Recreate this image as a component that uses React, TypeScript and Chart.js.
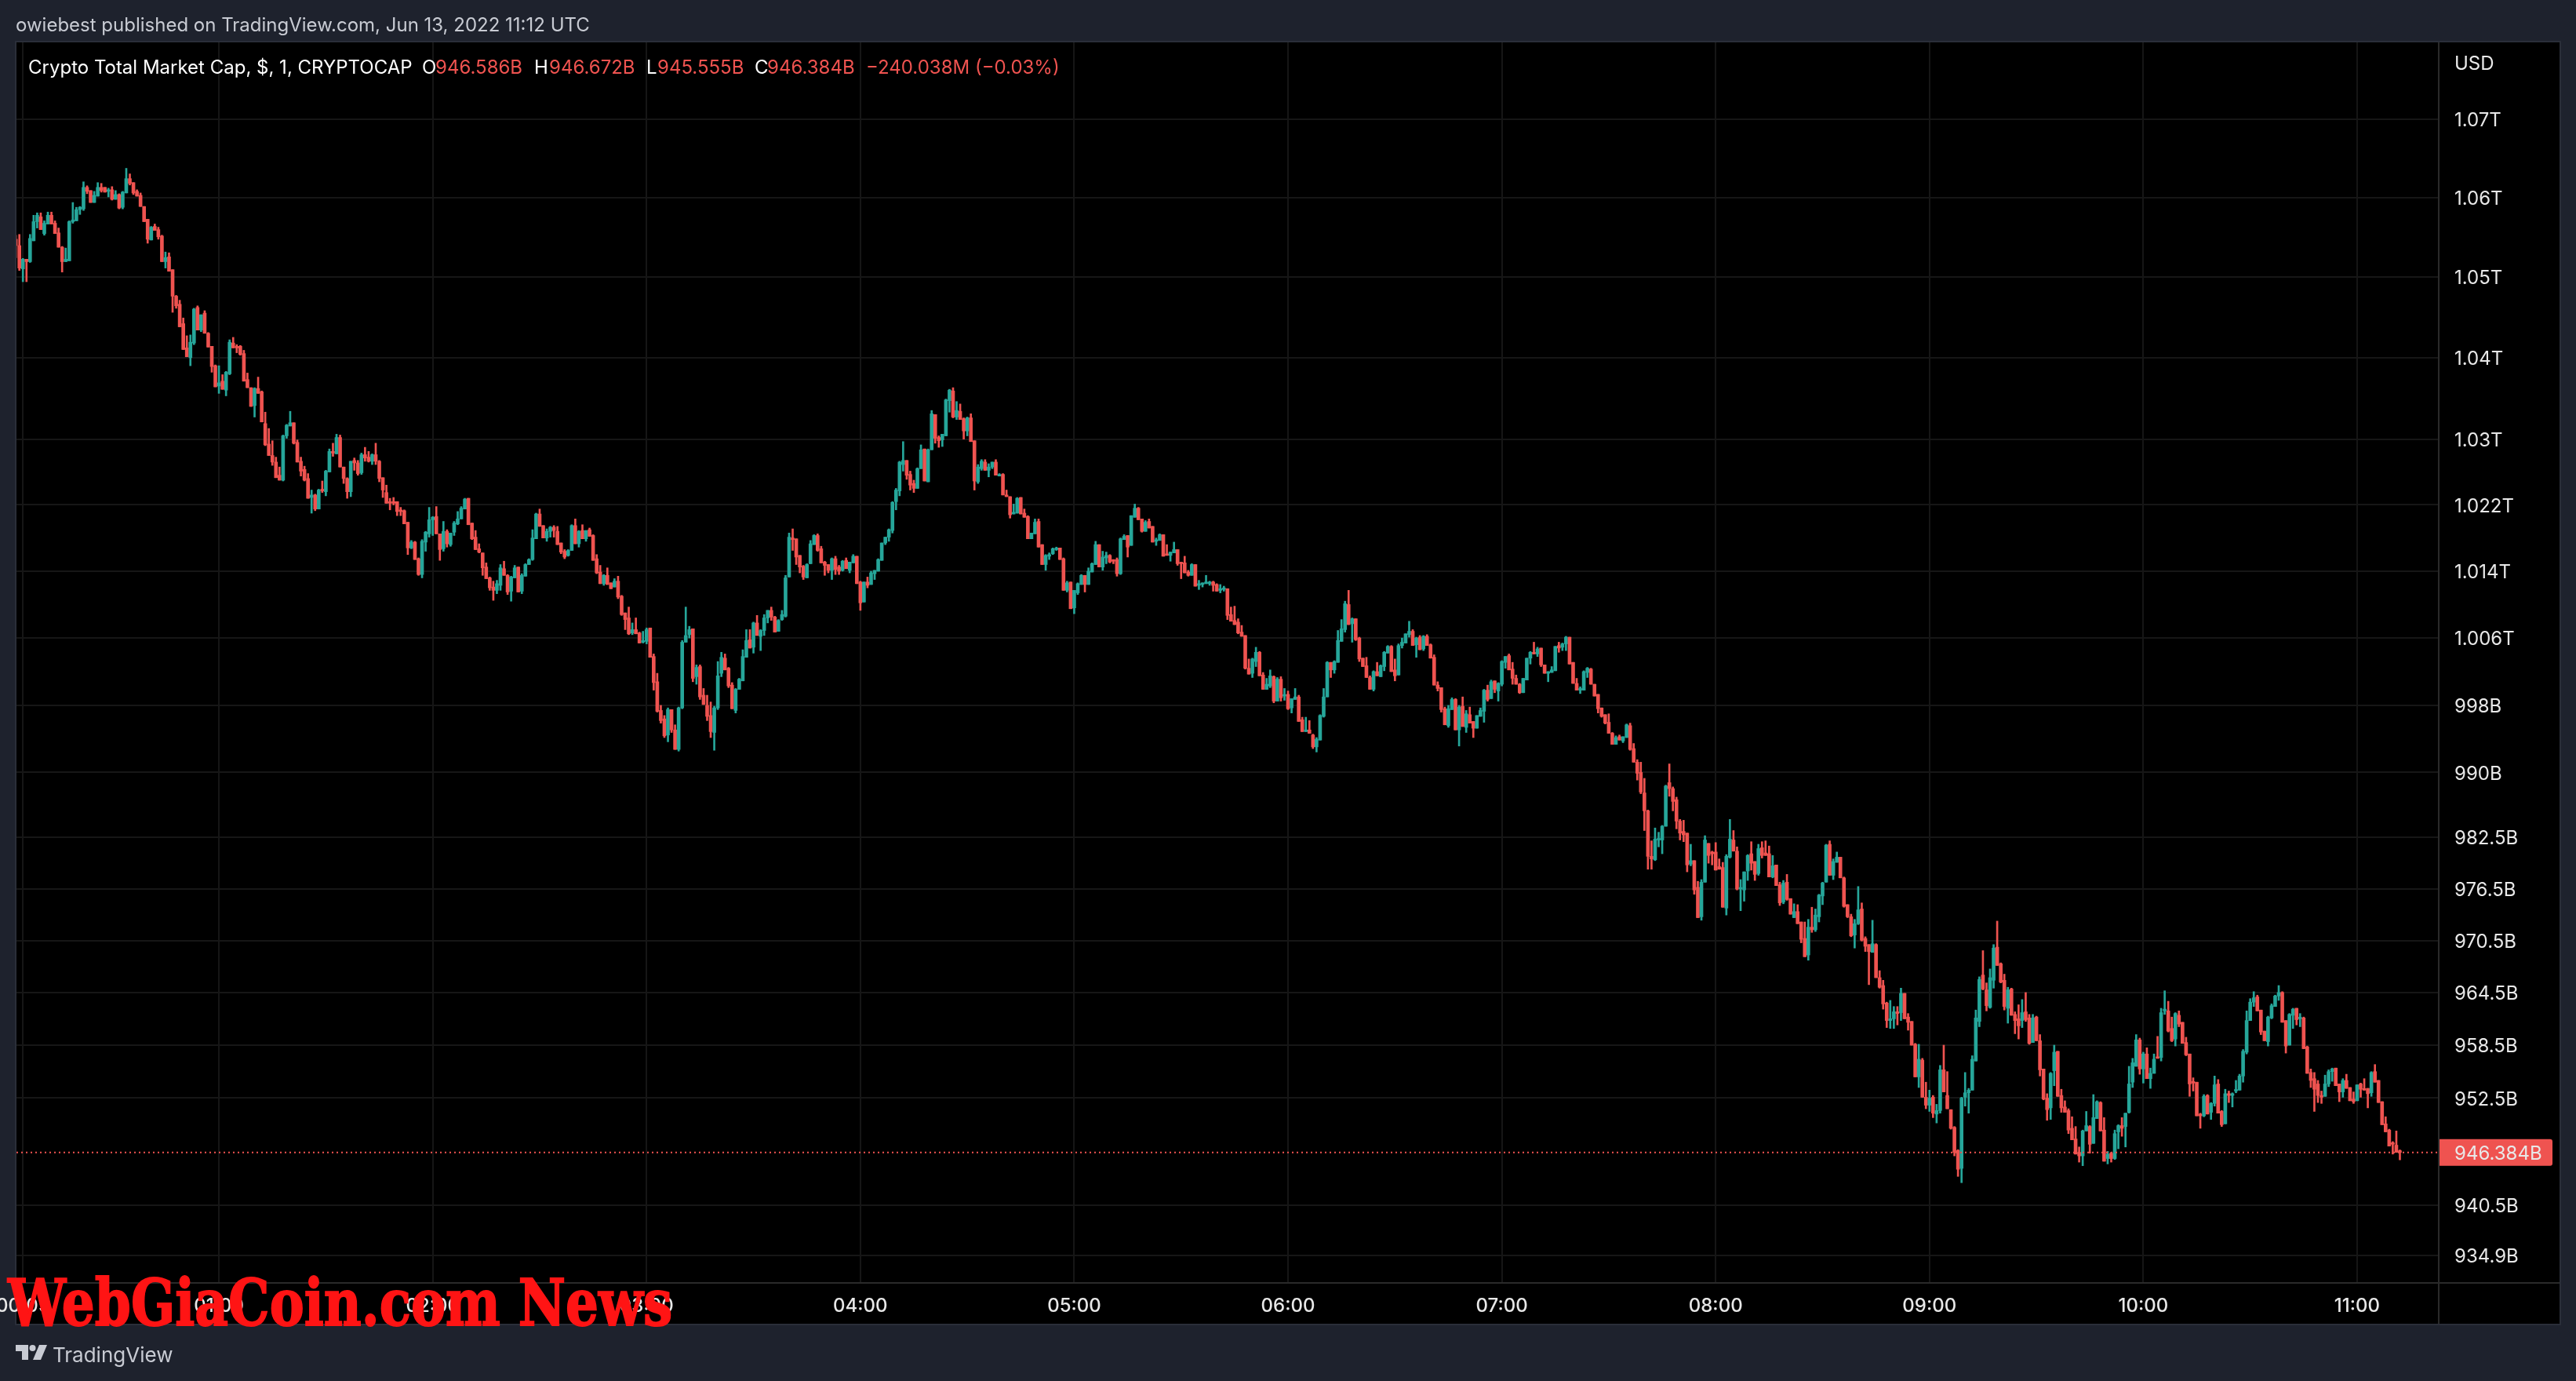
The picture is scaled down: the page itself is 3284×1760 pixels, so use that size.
import React, { useEffect, useRef } from "react";
import { Chart, registerables } from "chart.js";

Chart.register(...registerables);

const firstMinute = 3;

const opens = [
1054.6,1053.8,1050.9,1052.1,1051.8,1054.4,1056.8,1057.4,1055.3,1056.5,1057.6,1056.6,1055.4,1053.6,1051.8,1051.9,1056.8,1056.9,1058.3,1058.4,1061.1,1060.7,1059.2,1060.0,1061.1,1061.1,1060.6,1060.8,1059.6,1060.2,1058.6,1060.4,1062.2,1061.7,1060.6,1060.1,1058.7,1057.1,1054.5,1056.2,1055.8,1055.0,1051.8,1052.4,1050.8,1047.5,1046.5,1044.1,1041.1,1039.9,1041.7,1046.1,1043.3,1045.4,1042.9,1041.3,1038.9,1036.4,1037.0,1035.9,1037.9,1041.7,1041.2,1041.3,1040.4,1037.2,1036.2,1034.0,1036.1,1035.7,1031.8,1029.3,1027.9,1027.1,1025.5,1024.9,1030.3,1031.5,1031.9,1029.5,1027.2,1026.2,1025.1,1022.8,
1023.1,1021.4,1023.8,1023.5,1025.9,1028.4,1028.1,1030.1,1026.5,1025.1,1023.5,1027.3,1027.0,1025.8,1028.0,1027.7,1027.2,1028.0,1027.2,1025.2,1023.4,1022.2,1022.3,1022.3,1021.2,1021.2,1019.8,1016.7,1017.4,1015.4,1013.5,1017.4,1018.4,1020.1,1020.5,1018.4,1016.6,1018.7,1017.1,1018.6,1019.6,1020.2,1021.4,1022.7,1019.7,1018.0,1016.6,1016.1,1014.4,1013.1,1012.0,1011.6,1012.2,1014.2,1013.4,1011.5,1013.1,1014.4,1011.5,1013.3,1014.7,1015.3,1017.8,1020.8,1019.4,1017.9,1018.7,1019.2,1018.7,1017.3,1016.3,1015.8,1016.4,1019.4,1017.2,1018.8,1017.8,1018.9,1018.2,1015.4,1013.8,1012.4,1013.4,1012.5,
1012.0,1012.7,1010.9,1008.9,1008.3,1006.5,1006.9,1006.5,1005.4,1005.5,1007.1,1003.7,1000.7,997.3,996.3,994.4,997.4,995.0,992.7,997.6,1005.4,1006.3,1007.0,1001.3,1002.5,999.1,997.9,996.7,994.7,997.6,1001.7,1003.5,1002.3,1000.3,997.3,999.8,1000.8,1003.6,1005.7,1004.8,1007.7,1006.1,1006.8,1008.3,1009.2,1008.4,1006.7,1008.1,1008.5,1013.2,1017.9,1017.8,1015.8,1014.5,1013.1,1014.8,1017.1,1018.2,1016.6,1015.0,1014.7,1014.0,1015.4,1014.4,1014.0,1015.2,1014.0,1014.9,1015.7,1012.6,1010.2,1012.6,1012.3,1013.6,1013.9,1015.2,1017.3,1018.0,1018.8,1022.3,1023.6,1026.8,1027.3,1025.6,
1024.5,1023.9,1026.3,1028.7,1024.7,1028.6,1032.9,1030.1,1029.8,1030.3,1034.6,1035.8,1032.6,1033.3,1032.4,1030.9,1032.5,1029.7,1024.7,1026.3,1027.1,1026.1,1026.5,1027.1,1025.4,1025.6,1023.1,1022.9,1020.8,1020.9,1022.8,1020.9,1020.5,1017.8,1018.4,1019.9,1017.1,1014.7,1015.7,1016.0,1016.5,1016.7,1015.4,1011.6,1012.6,1009.5,1011.3,1012.3,1013.4,1012.3,1013.8,1014.7,1017.1,1014.4,1015.5,1015.8,1015.2,1015.3,1013.6,1017.7,1018.2,1017.0,1020.4,1021.5,1020.2,1018.7,1019.9,1019.3,1017.5,1017.6,1018.3,1015.9,1015.8,1016.1,1016.5,1014.9,1014.9,1013.8,1013.4,1014.7,1012.2,1012.3,1012.4,
1012.4,1012.6,1012.3,1011.6,1011.7,1011.8,1008.7,1008.0,1007.8,1006.6,1006.2,1002.3,1001.7,1003.1,1004.2,1001.5,999.8,1000.2,1001.3,998.4,1001.0,999.0,999.2,997.6,998.6,998.9,996.2,994.8,995.0,994.4,993.0,993.8,996.6,998.9,1003.0,1002.1,1003.0,1005.5,1006.9,1009.9,1007.6,1008.2,1005.9,1003.5,1002.6,1001.2,999.8,1001.9,1001.3,1002.5,1004.1,1004.9,1002.1,1001.5,1005.0,1005.3,1006.3,1006.7,1005.1,1006.0,1004.6,1006.1,1005.1,1003.6,1000.3,1000.0,997.5,995.5,997.4,998.6,995.0,997.8,995.3,996.8,996.0,995.2,996.6,997.2,999.7,998.7,1000.8,999.6,1000.4,1003.0,
1003.8,1002.2,1001.1,1000.4,999.4,1000.9,1003.5,1004.2,1004.0,1004.7,1002.7,1001.7,1001.8,1002.0,1005.0,1004.8,1005.2,1006.0,1003.0,1000.5,999.7,999.7,1001.8,1002.2,1000.4,999.2,997.6,996.8,995.9,994.6,993.3,994.2,993.7,994.1,995.5,992.8,991.2,990.0,987.6,985.5,980.2,979.8,982.1,982.1,983.7,988.8,988.1,986.8,984.3,983.1,982.9,979.3,979.7,976.6,973.2,977.2,981.7,980.7,980.7,979.0,978.9,974.2,980.1,982.1,980.8,976.4,976.3,978.5,980.5,979.6,978.2,981.2,980.6,980.5,977.8,979.2,976.9,974.9,977.2,975.3,973.1,973.8,972.6,970.7,
968.8,972.0,971.7,973.2,975.6,977.2,981.6,978.0,979.5,980.1,977.7,974.6,973.2,971.1,972.4,974.1,970.7,970.0,969.1,970.0,966.2,965.3,963.3,961.3,961.5,962.3,962.2,964.4,961.7,961.2,958.6,954.9,956.8,952.6,951.7,952.6,950.7,951.1,955.7,952.8,951.2,949.2,946.6,944.6,952.6,953.1,953.4,956.7,961.2,966.5,964.8,962.8,965.9,969.7,967.8,965.9,962.7,964.9,962.0,961.5,961.3,962.3,961.6,958.8,961.7,959.0,955.8,952.5,951.4,955.6,957.8,952.8,951.5,951.1,949.1,947.9,946.4,946.0,948.8,949.3,947.4,950.2,952.0,
948.9,945.7,946.3,945.7,948.7,949.4,949.3,950.9,954.3,956.1,959.1,955.8,957.5,954.7,955.3,957.1,957.1,962.4,962.4,960.4,959.2,961.9,961.1,958.8,957.5,954.3,954.3,950.7,950.5,952.8,950.9,951.9,954.1,951.0,949.6,953.0,952.8,953.3,953.4,955.0,957.7,961.3,963.4,964.0,962.5,960.1,958.9,961.6,962.9,964.1,964.5,961.3,958.5,961.9,962.7,961.5,961.6,958.3,955.4,954.7,954.1,952.8,952.7,954.1,955.5,955.9,954.1,953.2,954.5,953.7,952.4,952.2,954.1,953.5,953.6,953.1,955.5,954.5,952.1,949.6,948.9,947.4,947.2,946.586,
];

const highs = [
1055.1,1055.2,1052.2,1052.1,1055.2,1057.6,1057.9,1057.9,1056.9,1058.0,1058.0,1056.9,1056.0,1053.7,1053.5,1056.9,1059.2,1058.6,1058.7,1061.8,1061.3,1060.7,1060.6,1061.7,1061.6,1061.1,1061.0,1061.2,1060.7,1060.3,1060.6,1063.5,1062.8,1061.7,1060.8,1060.4,1058.7,1057.1,1056.2,1056.5,1056.1,1055.1,1053.0,1052.9,1050.8,1047.6,1047.0,1044.8,1042.6,1042.7,1046.0,1046.3,1045.2,1045.7,1043.0,1041.3,1039.0,1038.9,1037.8,1038.2,1042.1,1042.4,1041.5,1041.4,1040.8,1038.0,1036.2,1036.2,1037.5,1035.8,1033.2,1031.2,1029.7,1027.7,1026.5,1030.4,1031.7,1033.3,1031.9,1029.8,1027.7,1026.6,1025.7,1023.7,
1023.2,1023.8,1024.8,1026.1,1028.7,1029.4,1030.5,1030.4,1026.5,1025.2,1027.2,1027.6,1027.3,1028.2,1028.9,1028.4,1028.1,1029.4,1027.3,1025.2,1024.3,1022.7,1022.8,1022.3,1021.6,1021.3,1019.8,1017.6,1017.5,1015.5,1017.7,1018.7,1021.6,1020.5,1021.7,1018.4,1019.9,1018.9,1018.5,1019.9,1021.1,1021.7,1022.7,1022.7,1019.7,1018.8,1017.2,1016.1,1014.9,1013.2,1012.7,1012.8,1014.7,1015.1,1013.5,1013.3,1014.6,1014.4,1013.6,1014.8,1015.4,1018.9,1020.9,1021.4,1019.4,1019.0,1019.3,1019.4,1019.3,1017.3,1016.5,1016.5,1019.5,1020.2,1018.8,1019.5,1018.8,1019.1,1018.3,1015.9,1014.6,1013.5,1014.3,1012.5,
1013.0,1013.3,1011.0,1008.9,1009.6,1007.7,1008.3,1006.6,1006.7,1007.1,1007.1,1004.0,1001.7,997.9,996.7,997.6,997.4,995.6,997.7,1005.6,1009.6,1007.3,1007.0,1002.7,1002.7,999.9,999.1,998.3,997.8,1003.1,1004.2,1004.0,1002.4,1000.6,999.9,1001.1,1004.5,1006.9,1006.9,1007.8,1008.6,1006.9,1008.7,1009.2,1009.6,1008.5,1008.1,1009.2,1013.4,1018.5,1019.0,1017.8,1015.8,1014.6,1014.8,1017.6,1018.3,1018.4,1016.9,1015.1,1014.7,1015.5,1015.7,1014.6,1015.2,1015.5,1015.0,1015.9,1015.7,1012.7,1012.6,1013.2,1013.9,1014.0,1015.4,1017.3,1018.0,1019.0,1022.3,1023.9,1027.2,1029.6,1027.3,1026.0,
1024.9,1026.4,1029.2,1028.7,1028.7,1033.4,1032.9,1030.3,1030.5,1034.8,1036.0,1036.2,1034.5,1034.2,1032.5,1032.6,1033.0,1029.7,1026.8,1027.4,1027.4,1026.9,1027.1,1027.4,1025.7,1025.7,1023.7,1022.9,1022.0,1022.8,1022.8,1021.4,1020.6,1017.8,1020.2,1020.2,1017.1,1015.9,1016.1,1016.7,1016.8,1016.7,1015.5,1012.7,1012.6,1011.6,1012.5,1013.5,1013.4,1014.3,1014.9,1017.5,1017.1,1016.3,1016.2,1015.9,1015.3,1015.5,1017.9,1018.3,1018.2,1020.6,1022.0,1021.6,1020.2,1020.0,1020.2,1019.3,1017.9,1018.4,1018.3,1017.1,1016.2,1017.4,1016.5,1015.0,1015.7,1014.0,1014.8,1014.7,1012.8,1012.5,1013.4,
1012.7,1012.7,1012.4,1012.3,1012.1,1011.8,1009.6,1009.7,1008.2,1007.4,1006.2,1003.4,1003.5,1004.8,1004.3,1001.8,1001.1,1002.1,1001.4,1001.2,1001.3,999.9,999.6,998.7,999.9,999.1,996.5,996.5,996.1,994.5,994.1,996.8,999.9,1003.1,1003.0,1003.2,1006.8,1008.1,1010.3,1011.6,1008.3,1008.2,1006.0,1003.5,1003.6,1001.4,1002.0,1003.0,1002.7,1004.3,1005.0,1005.0,1003.4,1005.2,1005.9,1006.4,1007.9,1006.9,1006.0,1006.2,1006.2,1006.3,1005.2,1003.9,1000.7,1000.0,997.7,997.9,998.8,998.7,997.9,998.9,997.3,997.7,996.0,996.7,997.6,999.8,1000.3,1000.9,1000.8,1000.6,1003.2,1003.7,
1004.0,1003.0,1001.5,1000.5,1001.1,1003.5,1004.3,1005.4,1004.8,1004.7,1002.7,1001.9,1002.5,1004.9,1005.4,1005.3,1006.1,1006.0,1003.0,1001.1,1000.1,1002.0,1002.4,1002.3,1000.4,999.2,997.6,996.8,996.9,994.7,994.3,994.4,994.2,995.7,995.8,993.4,991.5,991.2,989.3,985.6,982.0,983.5,983.0,983.8,988.5,991.0,988.3,987.1,984.5,984.4,982.9,981.6,979.7,977.3,977.5,982.6,981.7,980.8,981.8,979.9,979.5,980.4,984.5,983.2,981.3,977.5,978.4,980.4,981.9,979.6,981.6,981.9,982.0,981.4,980.3,979.2,977.2,977.4,978.1,975.3,974.7,974.6,972.6,972.6,
972.9,974.3,974.1,975.8,977.2,981.6,982.0,979.9,980.7,980.1,977.8,974.6,973.5,972.9,976.7,974.8,970.9,970.0,972.8,970.1,967.0,965.9,963.4,963.6,962.9,962.9,965.0,964.4,962.1,961.2,958.7,958.6,957.0,954.3,953.4,952.8,951.8,956.2,958.5,955.5,951.2,949.3,946.7,952.6,955.4,953.6,957.3,962.5,966.3,969.3,965.6,967.2,970.0,972.7,967.9,966.6,965.1,965.0,962.3,963.1,963.7,964.5,962.0,962.0,961.8,959.7,955.8,953.0,955.4,958.5,957.8,953.5,952.2,951.3,950.4,949.3,947.0,948.9,951.0,949.4,952.9,952.2,952.1,
950.3,946.5,946.4,948.9,949.5,950.3,950.8,956.1,957.0,959.7,959.3,957.7,958.2,955.9,957.5,959.5,962.7,964.7,963.5,961.7,962.2,962.4,961.1,959.4,957.5,954.8,954.3,950.8,952.9,952.9,952.0,955.0,954.6,951.1,953.5,953.3,953.1,954.5,955.2,958.0,962.4,963.8,964.6,964.2,962.5,960.1,961.8,963.2,964.2,965.3,964.6,961.3,962.1,962.7,962.7,962.1,961.7,958.4,955.8,955.4,954.5,953.3,955.1,955.7,955.9,955.9,954.1,954.7,955.2,953.7,953.2,954.0,954.2,954.7,953.6,955.5,956.3,954.5,952.1,950.4,949.0,947.6,948.8,946.672,
];

const lows = [
1052.3,1050.7,1049.3,1049.3,1051.7,1054.4,1056.0,1055.8,1055.1,1056.5,1056.5,1055.3,1053.6,1050.5,1051.8,1051.9,1056.6,1056.9,1057.7,1058.2,1060.3,1059.2,1059.2,1060.0,1060.5,1060.5,1059.9,1059.5,1059.6,1058.4,1058.4,1060.4,1061.4,1060.2,1060.0,1058.7,1056.8,1054.1,1054.5,1055.7,1054.6,1051.8,1051.0,1050.6,1045.5,1046.0,1043.7,1040.9,1040.0,1038.9,1041.5,1043.3,1043.1,1042.9,1041.2,1038.1,1036.3,1035.5,1036.0,1035.2,1037.8,1041.1,1040.5,1040.2,1037.0,1036.2,1033.9,1032.6,1035.5,1032.0,1029.1,1027.9,1026.7,1025.2,1024.9,1024.8,1030.0,1031.5,1029.3,1027.1,1025.4,1024.8,1022.7,1020.9,
1021.2,1021.4,1023.4,1023.0,1025.9,1027.8,1028.1,1026.5,1024.5,1022.7,1022.9,1026.1,1025.5,1025.6,1027.2,1027.1,1026.8,1026.8,1024.7,1022.8,1022.1,1021.3,1021.9,1020.6,1020.6,1019.6,1015.9,1016.6,1015.3,1013.4,1013.1,1016.3,1018.0,1018.2,1018.4,1015.2,1016.3,1016.8,1016.9,1018.2,1019.5,1020.2,1021.4,1019.5,1017.7,1016.5,1016.1,1013.4,1013.0,1011.6,1010.4,1011.2,1011.6,1013.4,1011.1,1010.3,1013.1,1011.4,1011.2,1013.3,1014.7,1015.2,1017.8,1019.3,1017.9,1017.5,1018.0,1018.0,1017.1,1016.0,1015.4,1015.7,1016.4,1017.2,1016.8,1017.8,1017.5,1018.1,1015.2,1013.6,1012.4,1012.2,1012.3,1011.8,
1012.0,1010.6,1008.6,1006.9,1006.3,1006.3,1006.4,1005.3,1005.3,1005.2,1003.6,999.7,997.1,995.8,994.1,993.6,994.7,992.7,992.5,997.5,1005.4,1005.9,1000.7,1000.4,998.6,998.0,996.1,994.1,992.6,997.4,1001.3,1002.1,1000.0,997.5,997.0,999.8,1000.8,1003.6,1004.7,1004.1,1006.2,1004.4,1006.2,1007.7,1008.0,1006.6,1006.7,1008.0,1008.4,1013.2,1016.4,1014.7,1013.7,1012.9,1013.1,1014.8,1017.1,1016.3,1014.9,1013.4,1013.7,1012.9,1013.5,1013.5,1013.9,1014.2,1013.7,1014.9,1012.4,1009.2,1010.2,1011.9,1012.3,1012.9,1013.9,1015.2,1017.1,1017.5,1018.5,1021.3,1023.0,1026.0,1025.0,1023.7,
1023.4,1023.9,1026.3,1024.8,1024.7,1028.6,1029.4,1028.9,1029.0,1030.3,1033.2,1032.5,1032.3,1032.3,1029.9,1030.3,1029.6,1023.7,1024.5,1026.1,1026.1,1025.3,1026.3,1025.5,1025.4,1023.1,1022.9,1020.3,1020.8,1020.9,1020.8,1020.4,1017.8,1017.8,1018.4,1016.8,1014.7,1014.0,1015.3,1015.9,1016.4,1015.3,1011.6,1011.4,1009.4,1008.8,1011.1,1012.3,1011.4,1012.3,1013.8,1014.7,1014.4,1014.0,1014.8,1014.9,1014.8,1013.3,1013.5,1017.7,1015.6,1017.0,1020.4,1020.1,1018.6,1018.7,1019.1,1017.4,1017.0,1017.6,1015.7,1015.8,1015.1,1016.1,1014.6,1013.0,1013.7,1013.3,1013.4,1012.1,1011.7,1012.0,1012.4,
1012.2,1011.5,1011.5,1011.3,1011.5,1008.1,1007.9,1007.5,1006.4,1006.1,1002.2,1001.6,1001.2,1002.5,1001.4,999.8,999.8,1000.0,998.2,998.4,998.4,998.5,997.4,997.0,998.6,996.0,994.8,994.8,994.6,992.8,992.4,993.8,996.5,998.9,1001.2,1001.7,1003.0,1005.5,1006.6,1007.5,1005.4,1005.6,1003.1,1002.5,1001.2,999.8,999.6,1001.4,1001.3,1002.0,1004.1,1001.9,1000.8,1001.5,1004.7,1005.3,1006.0,1005.0,1003.6,1004.5,1004.4,1005.0,1003.5,1000.3,999.6,997.1,995.6,995.3,997.4,995.0,993.1,995.4,994.7,995.8,994.1,995.2,996.6,995.9,998.4,998.7,999.4,998.4,1000.2,1002.3,
1002.1,1000.4,1000.4,999.3,999.4,1000.9,1002.8,1004.0,1003.7,1002.5,1001.7,1000.7,1001.8,1002.0,1004.2,1004.4,1004.4,1002.8,1000.5,999.7,999.3,999.7,1001.2,1000.4,999.0,997.0,996.5,995.7,994.6,993.3,993.3,993.8,993.5,994.1,992.6,991.2,989.1,987.5,983.2,978.7,978.7,979.7,981.3,980.5,983.7,987.2,985.5,983.4,982.1,981.9,978.4,979.1,975.8,973.1,972.8,977.2,979.4,979.2,978.6,978.7,974.3,973.4,980.0,980.8,976.3,973.9,975.0,977.4,978.6,977.4,978.0,980.0,980.3,977.8,977.7,976.8,974.5,974.7,975.1,973.5,973.1,972.4,970.2,968.6,
968.2,971.4,971.5,972.6,974.6,977.2,978.0,977.5,979.5,977.7,974.3,973.1,970.9,969.6,972.3,970.4,969.2,965.4,969.1,966.2,965.0,962.6,960.5,960.4,960.4,960.8,961.3,961.5,960.2,958.5,954.9,953.7,952.6,951.3,951.0,950.3,949.7,950.8,953.2,951.3,949.0,946.0,943.7,943.0,951.6,950.8,953.4,956.7,960.6,964.8,962.4,962.7,965.0,967.6,965.6,962.5,961.0,961.9,959.8,959.2,960.5,961.2,958.6,958.8,959.0,955.0,952.3,950.0,950.1,953.9,952.7,950.9,950.9,948.5,947.8,946.2,945.3,944.9,948.8,946.3,947.4,950.2,948.8,
945.4,945.1,945.3,945.6,946.8,948.2,947.0,950.8,953.7,956.1,955.2,954.2,954.7,953.6,955.3,957.0,956.7,962.0,960.0,958.9,958.4,960.6,958.7,957.3,952.7,953.3,950.5,949.1,950.4,950.7,950.1,951.6,950.8,949.3,949.6,952.0,951.5,953.1,953.4,954.3,957.5,961.3,962.9,962.4,959.7,959.0,958.4,961.5,962.9,963.6,961.1,957.6,958.5,960.4,960.8,960.6,958.1,955.3,953.7,951.0,952.0,951.9,952.7,953.8,954.4,953.9,952.1,952.6,953.6,952.2,951.9,952.2,952.6,953.4,951.4,952.7,954.3,952.0,949.5,948.7,947.1,946.2,946.4,945.555,
];

const closes = [
1053.8,1051.0,1052.1,1051.8,1054.7,1056.8,1057.6,1055.8,1056.6,1057.6,1056.5,1055.3,1053.6,1051.8,1052.1,1056.8,1057.0,1058.3,1058.6,1061.1,1060.6,1059.2,1060.1,1061.1,1060.7,1060.5,1060.8,1059.6,1060.2,1058.5,1060.5,1062.2,1061.6,1060.4,1060.0,1058.7,1056.8,1054.6,1056.1,1055.7,1054.9,1051.8,1052.3,1050.6,1047.5,1046.3,1043.7,1040.9,1040.0,1041.8,1045.9,1043.3,1045.2,1042.9,1041.2,1038.8,1036.3,1036.8,1036.0,1038.1,1041.8,1041.1,1041.1,1040.3,1037.0,1036.2,1033.9,1036.1,1035.5,1032.0,1029.2,1027.9,1027.1,1025.2,1024.9,1030.3,1031.6,1031.9,1029.4,1027.1,1026.0,1024.9,1022.7,1023.1,
1021.4,1023.7,1023.6,1026.0,1028.4,1028.2,1030.1,1026.5,1025.1,1023.5,1027.2,1027.0,1025.7,1028.0,1027.6,1027.2,1028.0,1027.2,1025.1,1023.7,1022.1,1022.1,1022.1,1021.1,1021.1,1019.6,1016.7,1017.4,1015.3,1013.5,1017.5,1018.6,1020.1,1020.4,1018.4,1016.5,1018.7,1017.2,1018.5,1019.7,1020.2,1021.5,1022.6,1019.5,1017.8,1016.5,1016.2,1014.3,1013.0,1011.9,1011.6,1012.4,1014.3,1013.4,1011.4,1013.2,1014.3,1011.4,1013.4,1014.7,1015.3,1017.9,1020.8,1019.3,1017.9,1018.7,1019.2,1018.8,1017.1,1016.2,1015.6,1016.4,1019.4,1017.2,1018.7,1017.8,1018.8,1018.1,1015.2,1013.7,1012.4,1013.4,1012.3,1011.8,
1012.7,1010.8,1008.7,1008.1,1006.4,1006.9,1006.4,1005.3,1005.5,1006.9,1003.6,1000.6,997.2,996.1,994.3,997.4,995.0,992.7,997.6,1005.4,1006.2,1006.9,1001.1,1002.4,998.9,998.0,996.6,994.8,997.6,1001.4,1003.6,1002.1,1000.2,997.5,999.8,1001.0,1003.7,1005.6,1004.7,1007.7,1006.2,1006.8,1008.3,1009.2,1008.4,1006.6,1008.0,1008.7,1013.1,1018.0,1017.7,1015.6,1014.4,1013.2,1014.7,1017.2,1018.2,1016.4,1014.9,1014.6,1014.0,1015.4,1014.1,1013.9,1015.1,1014.2,1015.0,1015.7,1012.4,1010.1,1012.6,1012.2,1013.7,1014.0,1015.3,1017.3,1018.0,1018.9,1022.2,1023.7,1027.1,1027.3,1025.5,1024.3,
1023.9,1026.3,1028.6,1024.8,1028.6,1033.0,1030.0,1029.7,1030.5,1034.7,1035.9,1032.6,1033.4,1032.3,1030.9,1032.5,1029.6,1024.8,1026.5,1027.2,1026.1,1026.5,1027.1,1025.5,1025.6,1023.1,1022.9,1020.7,1021.0,1022.7,1020.8,1020.4,1017.8,1018.5,1019.8,1016.8,1014.7,1015.8,1015.9,1016.6,1016.6,1015.3,1011.6,1012.5,1009.4,1011.6,1012.4,1013.4,1012.3,1013.9,1014.8,1017.1,1014.4,1015.6,1015.8,1015.0,1015.1,1013.6,1017.8,1018.1,1016.8,1020.6,1021.5,1020.1,1018.7,1019.8,1019.1,1017.4,1017.6,1018.3,1015.7,1015.8,1016.2,1016.5,1014.8,1014.8,1013.7,1013.4,1014.7,1012.1,1012.4,1012.5,1012.6,
1012.6,1012.2,1011.5,1011.8,1011.9,1008.6,1007.9,1007.5,1006.5,1006.1,1002.3,1001.6,1003.4,1004.2,1001.4,999.8,1000.4,1001.4,998.4,1001.0,998.8,999.1,997.5,998.7,998.9,996.0,994.8,995.0,994.6,993.0,993.9,996.7,998.9,1003.0,1002.1,1003.1,1005.6,1007.0,1010.0,1007.5,1008.2,1005.7,1003.4,1002.5,1001.2,999.8,1001.9,1001.4,1002.6,1004.2,1004.9,1001.9,1001.4,1005.0,1005.4,1006.4,1006.7,1005.0,1005.9,1004.5,1006.1,1005.0,1003.5,1000.3,999.9,997.4,995.6,997.5,998.6,995.0,997.7,995.4,996.9,995.8,995.2,996.7,997.3,999.7,998.6,1000.7,999.8,1000.5,1003.1,1003.7,
1002.1,1001.1,1000.4,999.4,1001.1,1003.5,1004.2,1004.0,1004.6,1002.7,1001.7,1001.9,1002.1,1004.9,1004.7,1005.2,1006.0,1002.8,1000.5,999.7,999.9,1001.9,1002.3,1000.4,999.0,997.5,996.6,995.8,994.6,993.3,994.1,993.8,994.2,995.6,992.7,991.2,989.9,987.7,985.5,980.2,979.9,982.2,982.2,983.7,988.4,988.1,986.6,984.3,982.9,982.7,979.2,979.7,976.3,973.1,977.2,982.1,980.3,980.5,978.6,978.7,974.3,980.2,982.2,980.8,976.4,976.5,978.4,980.3,979.4,978.1,981.1,980.3,980.3,977.8,979.1,976.8,974.8,977.1,975.2,973.5,973.8,972.4,970.6,968.6,
972.0,971.7,973.4,975.7,977.1,981.5,978.0,979.6,980.1,977.7,974.4,973.2,971.0,972.4,974.0,970.5,969.8,969.2,970.1,966.2,965.1,963.2,961.3,961.5,962.3,962.1,964.4,961.5,961.1,958.5,954.9,956.9,952.6,951.7,952.5,950.8,951.1,955.7,953.2,951.3,949.1,946.4,944.5,952.5,953.1,953.4,956.9,961.6,966.0,964.9,963.0,966.2,969.6,967.6,965.7,962.9,964.8,961.9,961.3,960.7,962.2,961.4,958.7,961.6,959.0,955.7,952.4,951.2,955.3,957.7,952.7,951.4,950.9,948.9,947.8,946.2,946.0,948.8,949.4,947.3,950.3,952.1,948.8,
945.4,946.2,945.7,948.5,949.4,949.1,950.8,954.1,956.5,959.1,955.8,957.5,954.7,955.3,956.9,957.0,962.2,962.6,960.1,959.0,962.1,960.9,958.7,957.4,954.1,954.2,950.5,950.5,952.7,950.7,951.9,954.0,950.8,949.5,953.0,952.8,953.0,953.4,955.0,957.8,961.3,963.4,963.9,962.4,960.0,959.0,961.7,963.0,964.1,964.5,961.1,958.4,962.0,962.6,961.4,961.6,958.1,955.3,954.5,953.5,952.8,952.6,954.1,955.5,955.8,953.9,953.2,954.5,953.6,952.2,952.1,954.0,953.5,953.4,953.0,955.4,954.3,952.0,949.5,948.7,947.1,947.3,946.4,946.384,
];

const xTickMinutes = [5, 60, 120, 180, 240, 300, 360, 420, 480, 540, 600, 660];
const xTickLabels = ["00:05", "01:00", "02:00", "03:00", "04:00", "05:00", "06:00", "07:00", "08:00", "09:00", "10:00", "11:00"];
const yTickValues = [1069.7, 1059.8, 1049.9, 1039.9, 1029.9, 1021.9, 1013.9, 1005.9, 997.9, 990, 982.45, 976.4, 970.45, 964.5, 958.5, 952.5, 946.384, 940.5, 934.9];
const yTickLabels = ["1.07T", "1.06T", "1.05T", "1.04T", "1.03T", "1.022T", "1.014T", "1.006T", "998B", "990B", "982.5B", "976.5B", "970.5B", "964.5B", "958.5B", "952.5B", "946.384B", "940.5B", "934.9B"];
const lastPrice = 946.384;

const UP = "#26a69a";
const DOWN = "#ef5350";
const PAGE = "#1e222d";
const FONT = "Inter, 'Noto Sans', sans-serif";

const absText = (left: number, top: number, size: number, color: string, extra: any = {}): React.CSSProperties => ({
  position: "absolute", left, top, fontSize: size, lineHeight: `${Math.round(size * 1.3)}px`, color,
  fontFamily: FONT, whiteSpace: "pre", ...extra,
});

export default function App() {
  const ref = useRef<HTMLCanvasElement>(null);
  useEffect(() => {
    document.body.style.margin = "0";
    const n = closes.length;
    if (opens.length !== n || highs.length !== n || lows.length !== n) {
      throw new Error(`column lengths differ: ${opens.length} ${highs.length} ${lows.length} ${n}`);
    }
    const colors = closes.map((c, i) => (c >= opens[i] ? UP : DOWN));
    const minutes = closes.map((_, i) => firstMinute + i);
    const frame = {
      id: "frame",
      beforeDraw(chart: any) {
        const { ctx } = chart;
        ctx.save();
        ctx.fillStyle = PAGE;
        ctx.fillRect(0, 0, 3284, 1760);
        ctx.fillStyle = "#2a2e39";
        ctx.fillRect(19, 52, 3246, 1637);
        ctx.fillStyle = "#000000";
        ctx.fillRect(21, 54, 3242, 1633);
        const py = chart.scales.y.getPixelForValue(lastPrice);
        ctx.fillStyle = DOWN;
        ctx.beginPath();
        ctx.roundRect(3108, py - 17, 146, 34, [0, 3, 3, 0]);
        ctx.fill();
        ctx.restore();
      },
      afterDatasetsDraw(chart: any) {
        const { ctx } = chart;
        ctx.save();
        ctx.fillStyle = "#2a2a2a";
        ctx.fillRect(3108, 54, 2, 1633);
        ctx.fillRect(21, 1634, 3242, 2);
        ctx.restore();
      },
    };
    const chart = new Chart(ref.current as HTMLCanvasElement, {
      type: "bar",
      data: {
        datasets: [
          {
            type: "line",
            data: [{ x: 3.19, y: lastPrice }, { x: 682.9, y: lastPrice }],
            borderColor: DOWN,
            borderWidth: 2,
            borderDash: [2, 4],
            pointRadius: 0,
          },
          {
            type: "bar",
            grouped: false,
            data: minutes.map((m, i) => ({ x: m, y: [opens[i], closes[i]] })),
            backgroundColor: colors,
            barThickness: 4,
            minBarLength: 2,
          },
          {
            type: "bar",
            grouped: false,
            data: minutes.map((m, i) => ({ x: m, y: [lows[i], highs[i]] })),
            backgroundColor: colors,
            barThickness: 2,
            minBarLength: 1,
          },
        ] as any,
      },
      plugins: [frame],
      options: {
        responsive: false,
        animation: false,
        events: [],
        layout: { autoPadding: false, padding: { left: 21, top: 54, right: 20, bottom: 73 } },
        plugins: { legend: { display: false }, tooltip: { enabled: false }, title: { display: false } },
        scales: {
          x: {
            type: "linear",
            offset: false,
            min: 3.19,
            max: 682.9,
            afterBuildTicks: (s: any) => { s.ticks = xTickMinutes.map((value) => ({ value })); },
            afterFit: (s: any) => { s.height = 52; s.paddingLeft = 0; s.paddingRight = 0; },
            grid: { color: "#161616", lineWidth: 2, drawTicks: false, offset: false },
            border: { display: false },
            ticks: {
              autoSkip: false,
              maxRotation: 0,
              padding: 15,
              color: "#e8e8e8",
              font: { family: FONT, size: 24, weight: "500" },
              callback: (_: any, i: number) => xTickLabels[i],
            },
          },
          y: {
            type: "logarithmic",
            position: "right",
            min: 931.86,
            max: 1079.5,
            afterBuildTicks: (s: any) => { s.ticks = yTickValues.map((value) => ({ value })); },
            afterFit: (s: any) => { s.width = 155; s.paddingTop = 0; s.paddingBottom = 0; },
            grid: {
              color: (c: any) => (c.tick && c.tick.value === lastPrice ? "rgba(0,0,0,0)" : "#161616"),
              lineWidth: 2,
              drawTicks: false,
            },
            border: { display: false },
            ticks: {
              autoSkip: false,
              padding: 20,
              labelOffset: 2,
              color: "#e8e8e8",
              font: { family: FONT, size: 24 },
              callback: (_: any, i: number) => yTickLabels[i],
            },
          },
        },
      } as any,
    });
    return () => chart.destroy();
  }, []);

  const red = "#ef5350";
  return (
    <div style={{ position: "relative", width: 3284, height: 1760, overflow: "hidden", background: PAGE }}>
      <canvas ref={ref} width={3284} height={1760} style={{ display: "block", width: 3284, height: 1760 }} />
      <div style={absText(20, 16, 24, "#c8cbd3")}>owiebest published on TradingView.com, Jun 13, 2022 11:12 UTC</div>
      <div style={absText(36, 70, 24, "#ffffff")}>Crypto Total Market Cap, $, 1, CRYPTOCAP</div>
      <div style={absText(538, 70, 24, "#ffffff")}>O</div>
      <div style={absText(555, 70, 24, red)}>946.586B</div>
      <div style={absText(681, 70, 24, "#ffffff")}>H</div>
      <div style={absText(700, 70, 24, red)}>946.672B</div>
      <div style={absText(824, 70, 24, "#ffffff")}>L</div>
      <div style={absText(838, 70, 24, red)}>945.555B</div>
      <div style={absText(962, 70, 24, "#ffffff")}>C</div>
      <div style={absText(978, 70, 24, red)}>946.384B</div>
      <div style={absText(1104, 70, 24, red)}>−240.038M (−0.03%)</div>
      <div style={absText(3129, 65, 24, "#ebebeb")}>USD</div>
      <div style={absText(67, 1710, 26, "#c8cbd3")}>TradingView</div>
      <svg style={{ position: "absolute", left: 20, top: 1714 }} width="40" height="20" viewBox="0 0 40 20">
        <path d="M0 0H16V19H8V8H0Z M30 0L40 0L32 19H22Z" fill="#c8cbd3" />
        <circle cx="21.5" cy="4" r="4" fill="#c8cbd3" />
      </svg>
      <div
        style={{
          position: "absolute", left: 10, top: 1610, fontFamily: "'DejaVu Serif', serif", fontWeight: 700,
          fontSize: 82, lineHeight: "100px", color: "#ff1414", whiteSpace: "pre",
          WebkitTextStroke: "2px #ff1414",
          transform: "scaleX(0.805)", transformOrigin: "left top",
        } as any}
      >
        WebGiaCoin.com News
      </div>
    </div>
  );
}
